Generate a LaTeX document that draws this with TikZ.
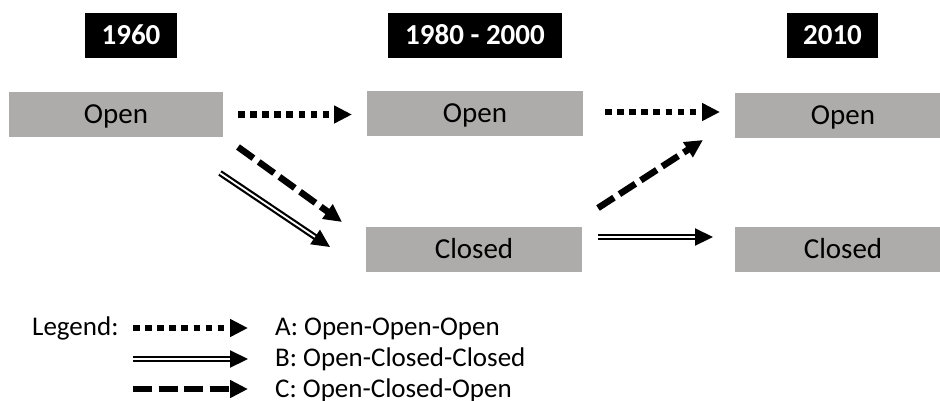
\documentclass[tikz,border=0pt]{standalone}
\usepackage{fontspec}
\setmainfont{Carlito}
\usetikzlibrary{arrows.meta}
\definecolor{boxgray}{RGB}{174,171,171}
\begin{document}
\begin{tikzpicture}[x=1pt,y=-1pt,
  state/.style={fill=boxgray, minimum width=216pt, minimum height=45pt, inner sep=0pt,
    text height=18.7pt, text depth=0pt, font=\fontsize{29}{34}\selectfont},
  yearbox/.style={fill=black, text=white, minimum height=45pt, inner sep=0pt,
    text height=18.5pt, text depth=0pt, font=\fontsize{29}{34}\selectfont\bfseries},
  tiphead/.style={-{Triangle[length=18pt,width=17pt]}},
  pathA/.style={tiphead, line width=6.5pt, dash pattern=on 6.5pt off 5.6pt},
  pathB/.style={tiphead, double, line width=2.2pt, double distance=1.8pt},
  pathC/.style={tiphead, line width=6.5pt, dash pattern=on 19pt off 6.5pt},
  legtext/.style={anchor=west, inner sep=0pt, text height=17.5pt, text depth=0pt,
    font=\fontsize{27}{32}\selectfont}
]
\clip (0,0) rectangle (940,400);
% year headers
\node[yearbox, minimum width=92pt]  (y1) at (131,35.5)   {1960};
\node[yearbox, minimum width=174pt] (y2) at (475,35.5)   {1980 - 2000};
\node[yearbox, minimum width=91pt]  (y3) at (832.5,35.5) {2010};
% states
\node[state, minimum width=214pt] (o1) at (116,114.5) {Open};
\node[state] (o2) at (475,113.5) {Open};
\node[state] (c2) at (474,249)   {Closed};
\node[state] (o3) at (843,115)   {Open};
\node[state] (c3) at (843,249)   {Closed};
% arrow end points
\coordinate (a1s) at (238,114.5); \coordinate (a1e) at (352,114.5);
\coordinate (a2s) at (605,112);   \coordinate (a2e) at (720,112);
\coordinate (b1s) at (220,173);   \coordinate (b1e) at (330,247);
\coordinate (c1s) at (238,147);   \coordinate (c1e) at (342,222);
\coordinate (c2s) at (598,208);   \coordinate (c2e) at (703,140);
\coordinate (b2s) at (598,237);   \coordinate (b2e) at (713,237);
\draw[pathA] (a1s) -- (a1e);
\draw[pathA] (a2s) -- (a2e);
\draw[pathB] (b1s) -- (b1e);
\draw[pathC] (c1s) -- (c1e);
\draw[pathC] (c2s) -- (c2e);
\draw[pathB] (b2s) -- (b2e);
% legend
\node[legtext] (leg) at (32,327) {Legend:};
\coordinate (la1) at (133,328); \coordinate (la2) at (248,328);
\coordinate (lb1) at (133,359); \coordinate (lb2) at (248,359);
\coordinate (lc1) at (133,389); \coordinate (lc2) at (248,389);
\draw[pathA] (la1) -- (la2);
\draw[pathB] (lb1) -- (lb2);
\draw[pathC] (lc1) -- (lc2);
\node[legtext] (ta) at (275,327) {A: Open-Open-Open};
\node[legtext] (tb) at (275,358) {B: Open-Closed-Closed};
\node[legtext] (tc) at (275,389) {C: Open-Closed-Open};
\end{tikzpicture}
\end{document}
